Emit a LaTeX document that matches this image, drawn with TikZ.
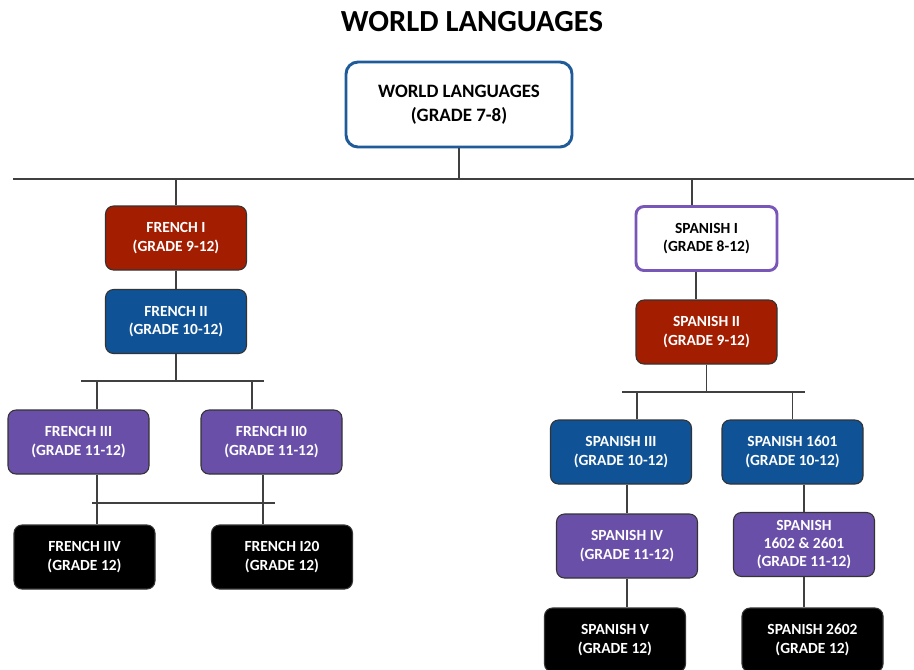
\documentclass[tikz,border=0pt]{standalone}
\usepackage{fontspec}
\setmainfont{Carlito}
\definecolor{langRed}{HTML}{A31D00}
\definecolor{langBlue}{HTML}{0F5396}
\definecolor{langPurple}{HTML}{6A4FA8}
\definecolor{rootBlue}{HTML}{1F5B99}
\definecolor{openPurple}{HTML}{7857B8}
\tikzstyle{courseBox} = [shape=rectangle, rounded corners=6pt, draw=black!80,
	line width=0.8pt, text=white, align=center, inner sep=0pt,
	minimum width=105.75pt, minimum height=48pt,
	font=\fontsize{11.6}{13.7}\selectfont\bfseries]
\tikzstyle{redBox} = [courseBox, fill=langRed]
\tikzstyle{blueBox} = [courseBox, fill=langBlue]
\tikzstyle{purpleBox} = [courseBox, fill=langPurple]
\tikzstyle{blackBox} = [courseBox, fill=black]
\tikzstyle{openBox} = [courseBox, draw=openPurple, line width=2.2pt,
	fill=white, text=black]
\tikzstyle{rootBox} = [shape=rectangle, rounded corners=9pt, draw=rootBlue,
	line width=2.2pt, fill=white, text=black, align=center,
	minimum width=169.5pt, minimum height=63.75pt,
	font=\fontsize{14.2}{18}\selectfont\bfseries]
\tikzstyle{link} = [draw=black!75, line width=1.1pt]

\begin{document}
\begin{tikzpicture}[x=0.75pt, y=-0.75pt]
  \useasboundingbox (0,0) rectangle (914,669);
  \node[font=\fontsize{23}{27}\selectfont\bfseries] (title) at (472,22) {WORLD LANGUAGES};
  \node[rootBox] (root) at (459,104.5) {WORLD LANGUAGES\\(GRADE 7-8)};
  % french branch
  \node[redBox] (fr1) at (176,238) {FRENCH I\\(GRADE 9-12)};
  \node[blueBox] (fr2) at (176,321.5) {FRENCH II\\(GRADE 10-12)};
  \node[purpleBox] (fr3) at (78.5,442) {FRENCH III\\(GRADE 11-12)};
  \node[purpleBox] (fr3b) at (271.5,442) {FRENCH II0\\(GRADE 11-12)};
  \node[blackBox] (fr4) at (84.5,557) {FRENCH IIV\\(GRADE 12)};
  \node[blackBox] (fr5) at (282,557) {FRENCH I20\\(GRADE 12)};
  % spanish branch
  \node[openBox] (sp1) at (706.5,238.5) {SPANISH I\\(GRADE 8-12)};
  \node[redBox] (sp2) at (706.5,332) {SPANISH II\\(GRADE 9-12)};
  \node[blueBox] (sp3) at (621,452) {SPANISH III\\(GRADE 10-12)};
  \node[blueBox] (sp4) at (792.5,452) {SPANISH 1601\\(GRADE 10-12)};
  \node[purpleBox] (sp5) at (627,546) {SPANISH IV\\(GRADE 11-12)};
  \node[purpleBox] (sp6) at (804,544.5) {SPANISH\\1602 \& 2601\\(GRADE 11-12)};
  \node[blackBox] (sp7) at (615,640) {SPANISH V\\(GRADE 12)};
  \node[blackBox] (sp8) at (812.5,640) {SPANISH 2602\\(GRADE 12)};

  % main bus
  \coordinate (mainL) at (13,179);
  \coordinate (mainR) at (914,179);
  \coordinate (spDrop) at (692,179);
  \draw[link] (mainL) -- (mainR);
  \draw[link] (root.south) -- (root.south |- mainL);
  \draw[link] (mainL -| fr1) -- (fr1.north);
  \draw[link] (spDrop) -- (spDrop |- sp1.north);

  % french links
  \coordinate (frBusL) at (81,381);
  \coordinate (frBusR) at (264,381);
  \coordinate (fr3Drop) at (97,381);
  \coordinate (fr3bDrop) at (252,381);
  \coordinate (frCrossL) at (92,503);
  \coordinate (frCrossR) at (275,503);
  \coordinate (fr4Drop) at (97,503);
  \coordinate (fr5Drop) at (263,503);
  \draw[link] (fr1) -- (fr2);
  \draw[link] (fr2.south) -- (fr2.south |- frBusL);
  \draw[link] (frBusL) -- (frBusR);
  \draw[link] (fr3Drop) -- (fr3Drop |- fr3.north);
  \draw[link] (fr3bDrop) -- (fr3bDrop |- fr3b.north);
  \draw[link] (frCrossL) -- (frCrossR);
  \draw[link] (fr3.south -| fr4Drop) -- (fr4Drop |- fr4.north);
  \draw[link] (fr3b.south -| fr5Drop) -- (fr5Drop |- fr5.north);

  % spanish links
  \coordinate (spJoin) at (696,272);
  \coordinate (spBusL) at (622,392);
  \coordinate (spBusR) at (805,392);
  \coordinate (sp3Drop) at (637,392);
  \draw[link] (spJoin) -- (spJoin |- sp2.north);
  \draw[link] (sp2.south) -- (sp2.south |- spBusL);
  \draw[link] (spBusL) -- (spBusR);
  \draw[link] (sp3Drop) -- (sp3Drop |- sp3.north);
  \draw[link] (spBusL -| sp4) -- (sp4.north);
  \draw[link] (sp3.south -| sp5) -- (sp5.north);
  \draw[link] (sp5.south) -- (sp5.south |- sp7.north);
  \draw[link] (sp4.south -| sp6) -- (sp6.north);
  \draw[link] (sp6.south) -- (sp6.south |- sp8.north);
\end{tikzpicture}
\end{document}
